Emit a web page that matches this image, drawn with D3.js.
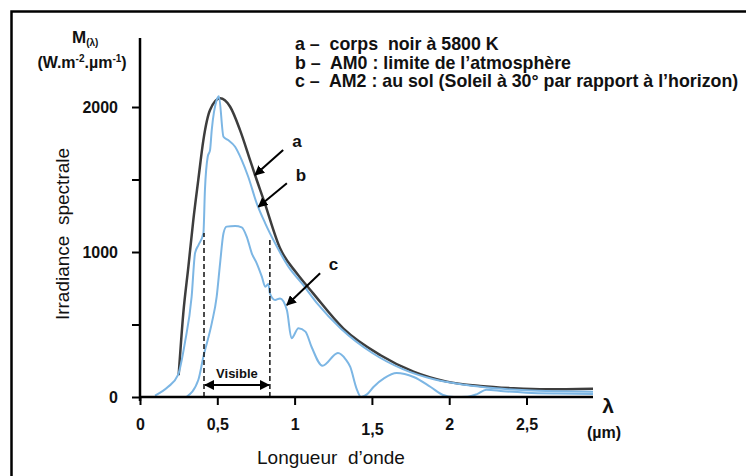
<!DOCTYPE html>
<html>
<head>
<meta charset="utf-8">
<script src="https://cdn.jsdelivr.net/npm/d3@7"></script>
<style>
  body { margin: 0; background: #fff; }
  svg text { font-family: "Liberation Sans", Arial, sans-serif; fill: #111; }
</style>
</head>
<body>
<div id="chart"></div>
<script>
// wavelengths in µm, irradiance in W.m-2.µm-1
var lambdaA = [0.25, 0.28, 0.313, 0.345, 0.377, 0.41, 0.453, 0.518, 0.583, 0.647, 0.712, 0.744, 0.80, 0.906, 1.014, 1.12, 1.316, 1.553, 1.769, 1.985, 2.2, 2.416, 2.632, 2.93];
var irrA = [150, 577, 899, 1221, 1497, 1772, 1979, 2060, 2002, 1841, 1634, 1531, 1359, 1025, 853, 715, 472, 290, 175, 106, 76, 60, 53, 57];

var lambdaB = [0.097, 0.18, 0.246, 0.29, 0.334, 0.356, 0.378, 0.41, 0.42, 0.438, 0.453, 0.464, 0.496, 0.51, 0.54, 0.57, 0.615, 0.658, 0.70, 0.755, 0.81, 0.874, 0.96, 1.05, 1.15, 1.3, 1.5, 1.7, 1.9, 2.1, 2.3, 2.5, 2.7, 2.93];
var irrB = [10, 69, 152, 372, 692, 992, 1048, 1129, 1428, 1657, 1703, 1841, 2048, 2075, 1795, 1772, 1726, 1634, 1519, 1336, 1198, 1060, 899, 780, 640, 470, 305, 192, 122, 84, 60, 46, 40, 37];

var lambdaC = [0.30, 0.377, 0.41, 0.464, 0.496, 0.518, 0.54, 0.56, 0.615, 0.658, 0.69, 0.723, 0.755, 0.788, 0.81, 0.83, 0.84, 0.874, 0.906, 0.95, 0.98, 1.025, 1.07, 1.11, 1.18, 1.28, 1.33, 1.36, 1.40, 1.43, 1.47, 1.51, 1.58, 1.66, 1.77, 1.88, 1.96, 2.03, 2.12, 2.18, 2.24, 2.35, 2.5, 2.7, 2.93];
var irrC = [0, 117, 278, 508, 692, 922, 1129, 1175, 1179, 1170, 1106, 991, 922, 830, 761, 780, 715, 669, 680, 600, 405, 474, 451, 345, 215, 303, 260, 207, 60, 0, 20, 69, 130, 165, 138, 69, 14, 0, 2, 20, 50, 40, 30, 24, 21];

var xTicks = [0, 0.5, 1, 1.5, 2, 2.5];
var xTickLabels = ["0", "0,5", "1", "1,5", "2", "2,5"];
var yTicks = [0, 500, 1000, 1500, 2000];
var yTickLabels = ["0", "", "1000", "", "2000"];

var legendLines = [
  "a \u2013  corps  noir à 5800 K",
  "b \u2013  AM0 : limite de l\u2019atmosphère",
  "c \u2013  AM2 : au sol (Soleil à 30° par rapport à l\u2019horizon)"
];

// arrows in data units: [tipλ, tipM, tailλ, tailM, label]
var arrows = [
  [0.744, 1531, 0.926, 1703, "a"],
  [0.766, 1312, 0.95, 1474, "b"],
  [0.95, 634, 1.165, 853, "c"]
];
var visibleRange = [0.414, 0.84];
var visibleTop = [1131, 1100];

var W = 746, H = 476;
var svg = d3.select("#chart").append("svg")
  .attr("width", W)
  .attr("height", H);

var x = d3.scaleLinear().domain([0, 2.93]).range([140, 593]);
var y = d3.scaleLinear().domain([0, 2476]).range([397, 38]);

// frame (top and left edges)
svg.append("path")
  .attr("d", "M11.5," + H + "V11.5H" + W)
  .attr("fill", "none")
  .attr("stroke", "#000")
  .attr("stroke-width", 2.5);

// arrow markers
var defs = svg.append("defs");
defs.append("marker")
  .attr("id", "head")
  .attr("viewBox", "0 0 10 10")
  .attr("refX", 9).attr("refY", 5)
  .attr("markerWidth", 10).attr("markerHeight", 10)
  .attr("markerUnits", "userSpaceOnUse")
  .attr("orient", "auto-start-reverse")
  .append("path")
  .attr("d", "M0,0L10,5L0,10Z")
  .attr("fill", "#000");

// curves
var line = d3.line()
  .x(function (d) { return x(d[0]); })
  .y(function (d) { return y(d[1]); })
  .curve(d3.curveMonotoneX);

svg.append("path")
  .datum(d3.zip(lambdaA, irrA))
  .attr("fill", "none")
  .attr("stroke", "#3d3d3d")
  .attr("stroke-width", 2.5)
  .attr("d", line);

svg.append("path")
  .datum(d3.zip(lambdaB, irrB))
  .attr("fill", "none")
  .attr("stroke", "#7cb6e4")
  .attr("stroke-width", 2)
  .attr("d", line);

svg.append("path")
  .datum(d3.zip(lambdaC, irrC))
  .attr("fill", "none")
  .attr("stroke", "#7cb6e4")
  .attr("stroke-width", 2)
  .attr("d", line);

// visible band
visibleRange.forEach(function (v, i) {
  svg.append("line")
    .attr("x1", x(v)).attr("x2", x(v))
    .attr("y1", y(0)).attr("y2", y(visibleTop[i]))
    .attr("stroke", "#111")
    .attr("stroke-width", 1.5)
    .attr("stroke-dasharray", "5,3");
});
svg.append("line")
  .attr("x1", x(visibleRange[0]) + 1).attr("x2", x(visibleRange[1]) - 1)
  .attr("y1", y(83)).attr("y2", y(83))
  .attr("stroke", "#000")
  .attr("stroke-width", 2)
  .attr("marker-start", "url(#head)")
  .attr("marker-end", "url(#head)");
svg.append("text")
  .attr("x", x((visibleRange[0] + visibleRange[1]) / 2))
  .attr("y", y(165))
  .attr("dy", "0.35em")
  .attr("text-anchor", "middle")
  .style("font-size", "13px")
  .style("font-weight", "bold")
  .text("Visible");

// annotation arrows
arrows.forEach(function (a) {
  svg.append("line")
    .attr("x1", x(a[2])).attr("y1", y(a[3]))
    .attr("x2", x(a[0])).attr("y2", y(a[1]))
    .attr("stroke", "#000")
    .attr("stroke-width", 2)
    .attr("marker-end", "url(#head)");
  var dx = x(a[2]) - x(a[0]), dy = y(a[3]) - y(a[1]);
  var len = Math.sqrt(dx * dx + dy * dy);
  svg.append("text")
    .attr("x", x(a[2]) + dx / len * 13 + 4)
    .attr("y", y(a[3]) + dy / len * 13)
    .attr("dy", "0.35em")
    .attr("text-anchor", "middle")
    .style("font-size", "17px")
    .style("font-weight", "bold")
    .text(a[4]);
});

// axes
var xAxis = svg.append("g")
  .attr("transform", "translate(0," + y(0) + ")")
  .call(d3.axisBottom(x)
    .tickValues(xTicks)
    .tickSizeOuter(0)
    .tickSize(8)
    .tickPadding(14)
    .tickFormat(function (d, i) { return xTickLabels[i]; }));
xAxis.select(".domain")
  .attr("d", "M" + x(0) + ",0H" + x(2.93))
  .attr("stroke-width", 2.5);
xAxis.selectAll(".tick line").attr("stroke-width", 2);
xAxis.selectAll(".tick text")
  .style("font-size", "16px")
  .style("font-weight", "bold")
  .attr("font-family", null)
  .attr("dy", function (d) { return d === 1.5 ? "1.0em" : "0.68em"; });

var yAxis = svg.append("g")
  .attr("transform", "translate(" + x(0) + ",0)")
  .call(d3.axisLeft(y)
    .tickValues(yTicks)
    .tickSizeOuter(0)
    .tickSize(8)
    .tickPadding(14)
    .tickFormat(function (d, i) { return yTickLabels[i]; }));
yAxis.select(".domain")
  .attr("d", "M0," + y(2476) + "V" + (y(0) + 4))
  .attr("stroke-width", 2.5);
yAxis.selectAll(".tick line").attr("stroke-width", 2);
yAxis.selectAll(".tick text")
  .style("font-size", "16px")
  .style("font-weight", "bold")
  .attr("font-family", null);

// axis titles
svg.append("text")
  .attr("x", 608).attr("y", 413)
  .attr("text-anchor", "middle")
  .style("font-size", "21px")
  .style("font-weight", "bold")
  .text("λ");
svg.append("text")
  .attr("x", 604).attr("y", 438)
  .attr("text-anchor", "middle")
  .style("font-size", "16px")
  .style("font-weight", "bold")
  .text("(µm)");
svg.append("text")
  .attr("x", 331).attr("y", 464)
  .attr("text-anchor", "middle")
  .style("font-size", "19px")
  .style("white-space", "pre")
  .text("Longueur  d\u2019onde");
svg.append("text")
  .attr("transform", "translate(69,234) rotate(-90)")
  .attr("text-anchor", "middle")
  .style("font-size", "19px")
  .style("white-space", "pre")
  .text("Irradiance  spectrale");

var mLabel = svg.append("text")
  .attr("x", 72).attr("y", 43)
  .style("font-size", "17px")
  .style("font-weight", "bold");
mLabel.append("tspan").text("M");
mLabel.append("tspan").attr("dy", 3).style("font-size", "10px").text("(λ)");

var uLabel = svg.append("text")
  .attr("x", 82).attr("y", 68)
  .attr("text-anchor", "middle")
  .style("font-size", "16px")
  .style("font-weight", "bold");
uLabel.append("tspan").text("(W.m");
uLabel.append("tspan").attr("dy", -6).style("font-size", "10px").text("-2");
uLabel.append("tspan").attr("dy", 6).text(".µm");
uLabel.append("tspan").attr("dy", -6).style("font-size", "10px").text("-1");
uLabel.append("tspan").attr("dy", 6).text(")");

// legend
svg.append("g").selectAll("text")
  .data(legendLines)
  .join("text")
  .attr("x", 295)
  .attr("y", function (d, i) { return 50 + i * 18.5; })
  .style("font-size", "17.8px")
  .style("font-weight", "bold")
  .style("white-space", "pre")
  .text(function (d) { return d; });
</script>
</body>
</html>
